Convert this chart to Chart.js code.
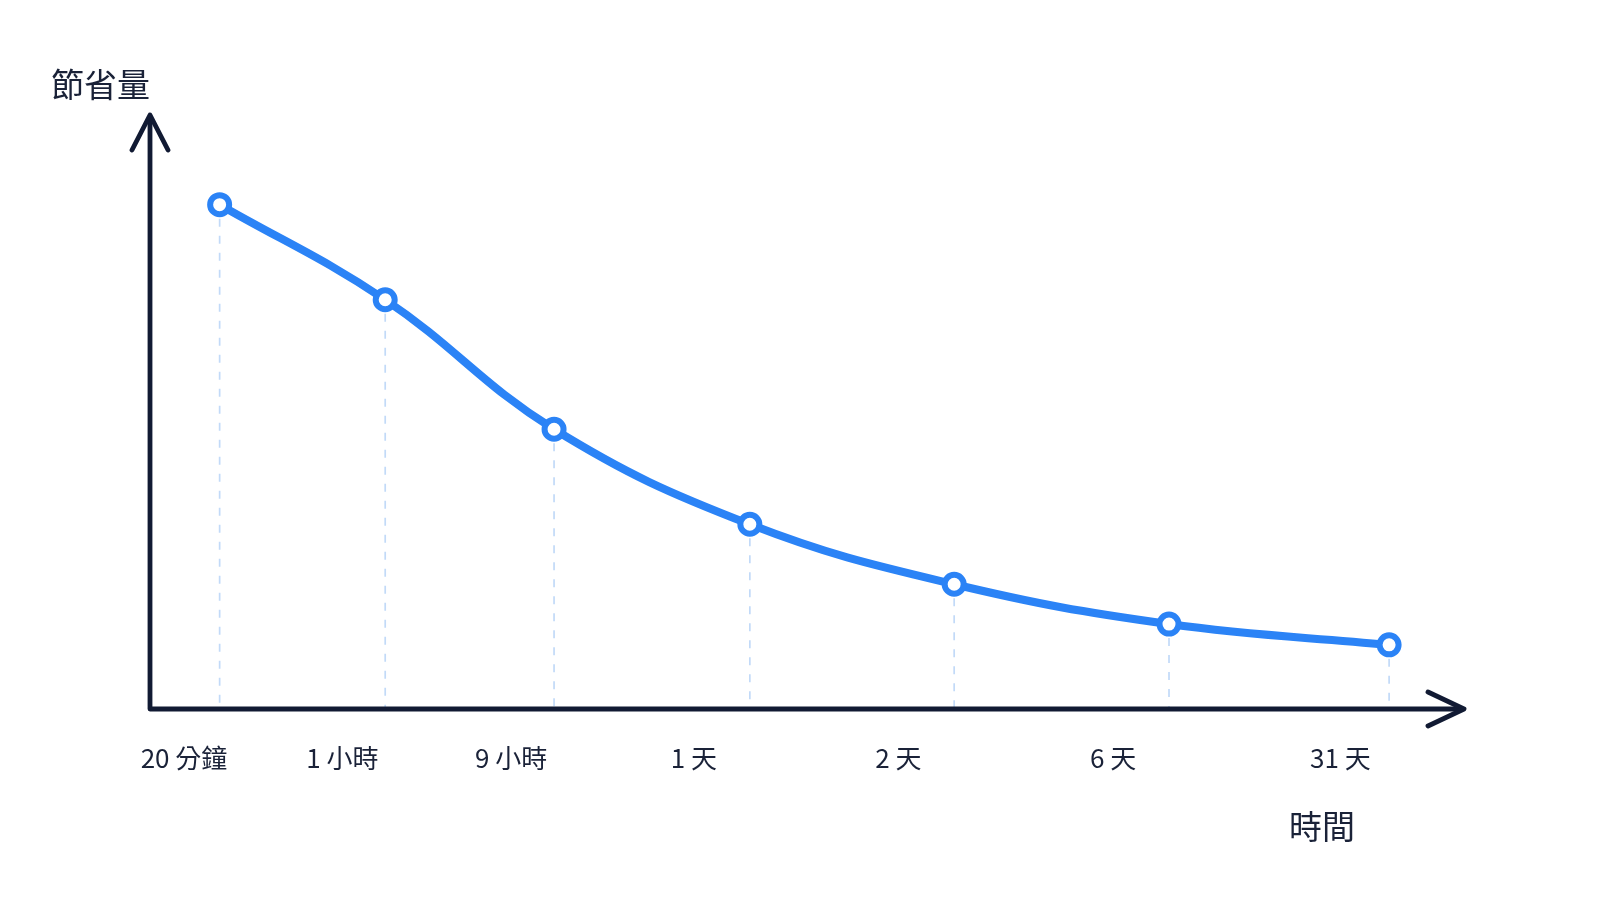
<!DOCTYPE html>
<html>
<head>
<meta charset="utf-8">
<script src="https://cdn.jsdelivr.net/npm/chart.js@4/dist/chart.umd.min.js"></script>
<style>
  html, body { margin: 0; padding: 0; background: #fff; }
  #wrap { width: 1600px; height: 900px; position: relative; }
</style>
</head>
<body>
<div id="wrap"><canvas id="forgetChart"></canvas></div>
<script>
/* ---- data ---- */
const TIME_LABELS = ['20 分鐘', '1 小時', '9 小時', '1 天', '2 天', '6 天', '31 天'];
const TIME_POS    = [5.3, 17.9, 30.75, 45.65, 61.2, 77.55, 94.3];
const SAVED       = [84.9, 68.9, 47.1, 31.1, 21.0, 14.3, 10.8];
const Y_TITLE     = '節省量';
const X_TITLE     = '時間';

const NAVY = '#111a33';
const BLUE = '#2b83f6';
const FONT = '"Noto Sans CJK TC", "Noto Sans", sans-serif';

// axes with arrowheads, dashed drop lines, labels
const axesPlugin = {
  id: 'axesPlugin',
  beforeDatasetsDraw(chart) {
    const { ctx, chartArea: a, scales: { x, y } } = chart;
    ctx.save();
    ctx.strokeStyle = '#c2daf8';
    ctx.lineWidth = 1.7;
    ctx.setLineDash([8, 9]);
    SAVED.forEach((v, i) => {
      const px = x.getPixelForValue(TIME_POS[i]);
      ctx.beginPath();
      ctx.moveTo(px, y.getPixelForValue(v) + 14);
      ctx.lineTo(px, a.bottom);
      ctx.stroke();
    });
    ctx.setLineDash([]);

    ctx.strokeStyle = NAVY;
    ctx.lineWidth = 4.8;
    ctx.lineCap = 'round';
    ctx.lineJoin = 'round';
    ctx.beginPath();
    ctx.moveTo(a.left, a.top + 2);
    ctx.lineTo(a.left, a.bottom);
    ctx.lineTo(a.right - 2, a.bottom);
    ctx.stroke();
    // arrowheads
    ctx.beginPath();
    ctx.moveTo(a.left - 18, a.top + 35);
    ctx.lineTo(a.left, a.top);
    ctx.lineTo(a.left + 18, a.top + 35);
    ctx.moveTo(a.right - 36, a.bottom - 17);
    ctx.lineTo(a.right, a.bottom);
    ctx.lineTo(a.right - 36, a.bottom + 17);
    ctx.stroke();

    ctx.fillStyle = '#1a2238';
    ctx.font = '26px ' + FONT;
    ctx.textAlign = 'left';
    ctx.textBaseline = 'middle';
    TIME_LABELS.forEach((t, i) => {
      ctx.fillText(t, x.getPixelForValue(TIME_POS[i]) - 79, a.bottom + 49);
    });
    ctx.font = '33px ' + FONT;
    ctx.fillText(Y_TITLE, 51, 84);
    ctx.fillText(X_TITLE, 1289, 826);
    ctx.restore();
  }
};

new Chart(document.getElementById('forgetChart'), {
  type: 'line',
  data: {
    datasets: [{
      data: SAVED.map((v, i) => ({ x: TIME_POS[i], y: v })),
      borderColor: BLUE,
      borderWidth: 8,
      tension: 0.4,
      pointRadius: 9.5,
      pointBorderWidth: 6,
      pointBackgroundColor: '#fff',
      pointBorderColor: BLUE,
      fill: false
    }]
  },
  options: {
    responsive: true,
    maintainAspectRatio: false,
    animation: false,
    layout: { padding: { left: 150, right: 136, top: 115, bottom: 191 } },
    plugins: { legend: { display: false }, tooltip: { enabled: false } },
    scales: {
      x: { type: 'linear', display: false, min: 0, max: 100 },
      y: { display: false, min: 0, max: 100 }
    }
  },
  plugins: [axesPlugin]
});
</script>
</body>
</html>
